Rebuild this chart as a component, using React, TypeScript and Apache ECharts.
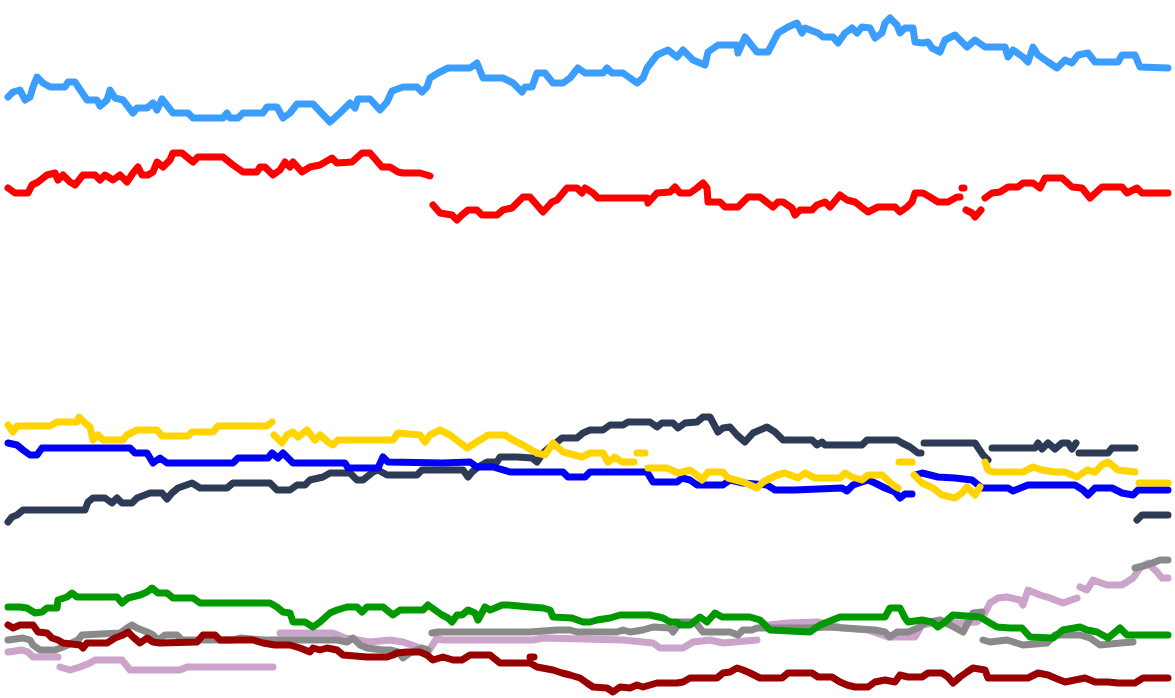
import React, { useEffect, useRef } from "react";
import * as echarts from "echarts";

// x: day index (0..1175), y: plotted level (0 = top of chart, 698 = bottom)
const GAP: any = ["-", "-"];

const lightBlueLine: any[] = [
  [8, 97], [13, 92], [20, 90], [25, 100], [30, 97], [33, 87], [37, 77], [43, 83], [50, 87], [65, 87], [68, 82], [75, 82],
  [87, 100], [97, 100], [100, 106], [107, 100], [110, 90], [115, 98], [123, 100], [133, 113], [137, 108], [147, 108],
  [153, 103], [157, 110], [162, 99], [173, 113], [188, 113], [193, 118], [223, 118], [227, 113], [230, 118], [238, 118],
  [243, 113], [263, 113], [267, 107], [277, 107], [283, 118], [290, 113], [297, 104], [313, 104], [330, 122], [340, 113],
  [350, 103], [355, 108], [358, 99], [370, 99], [380, 110], [387, 102], [392, 91], [403, 87], [417, 87], [422, 92],
  [427, 87], [430, 78], [438, 73], [448, 68], [470, 68], [477, 63], [483, 78], [503, 78], [513, 83], [522, 92], [525, 87],
  [532, 87], [537, 73], [545, 73], [553, 83], [563, 83], [570, 78], [578, 68], [585, 73], [603, 73], [607, 68], [612, 73],
  [623, 73], [637, 83], [643, 78], [647, 68], [657, 55], [668, 50], [677, 57], [683, 50], [693, 60], [705, 65], [708, 52],
  [718, 45], [737, 45], [738, 53], [745, 37], [757, 52], [768, 52], [778, 33], [788, 27], [797, 23], [802, 33], [805, 28],
  [818, 33], [823, 37], [833, 37], [838, 43], [845, 33], [852, 28], [857, 33], [862, 27], [870, 28], [875, 38], [882, 33],
  [885, 23], [890, 18], [897, 25], [900, 33], [905, 28], [913, 28], [915, 42], [923, 43], [928, 42], [932, 48], [940, 52],
  [945, 40], [955, 35], [967, 47], [975, 40], [985, 47], [1005, 47], [1008, 57], [1013, 50], [1023, 57], [1028, 62],
  [1033, 47], [1038, 55], [1048, 62], [1057, 68], [1065, 60], [1072, 63], [1078, 55], [1088, 53], [1095, 62], [1118, 62],
  [1122, 55], [1135, 55], [1140, 67], [1168, 68],
];

const redLine: any[] = [
  [8, 188], [15, 193], [28, 193], [32, 185], [38, 182], [47, 175], [55, 173], [58, 180], [63, 175], [70, 182], [75, 185],
  [83, 175], [95, 175], [100, 180], [105, 175], [113, 180], [120, 175], [127, 182], [133, 173], [138, 167], [142, 175],
  [148, 175], [153, 172], [157, 162], [163, 167], [170, 160], [173, 153], [182, 153], [193, 162], [198, 157], [223, 157],
  [233, 165], [243, 172], [257, 172], [260, 167], [265, 167], [273, 175], [280, 170], [285, 162], [290, 167], [293, 162],
  [302, 172], [310, 167], [320, 165], [332, 158], [337, 163], [352, 162], [362, 153], [370, 153], [382, 167], [390, 167],
  [398, 172], [403, 173], [420, 173], [427, 175], [430, 176],
  GAP,
  [433, 205], [440, 213], [452, 215], [457, 220], [462, 215], [468, 210], [477, 210], [482, 215], [497, 215], [503, 210],
  [512, 208], [517, 203], [523, 197], [530, 197], [543, 212], [552, 202], [557, 200], [567, 188], [577, 188], [582, 193],
  [585, 188], [593, 193], [598, 198], [647, 198], [648, 203], [657, 193], [670, 192], [675, 187], [680, 193], [690, 193],
  [697, 188], [703, 183], [707, 188], [708, 202], [720, 202], [725, 207], [738, 207], [748, 197], [760, 197], [773, 207],
  [778, 202], [783, 202], [792, 208], [795, 215], [800, 210], [812, 210], [817, 205], [825, 202], [830, 207], [840, 195],
  [847, 200], [855, 202], [868, 212], [878, 207], [895, 207], [900, 212], [907, 207], [912, 202], [915, 193], [923, 193],
  [930, 197], [938, 202], [948, 202], [957, 197], [960, 197],
  GAP,
  [962, 188], [964, 188],
  GAP,
  [966, 210], [972, 213], [975, 217], [981, 210],
  GAP,
  [985, 198], [992, 193], [1000, 192], [1008, 187], [1018, 187], [1023, 183], [1033, 183], [1040, 188], [1045, 178],
  [1062, 178], [1072, 187], [1082, 188], [1090, 198], [1102, 187], [1122, 187], [1127, 193], [1137, 188], [1142, 193],
  [1168, 193],
];

const yellowLine: any[] = [
  [8, 425], [13, 432], [17, 426], [50, 426], [57, 422], [77, 422], [79, 417], [85, 423], [90, 427], [93, 440], [98, 435],
  [103, 440], [123, 440], [127, 435], [133, 432], [137, 430], [157, 430], [162, 436], [188, 436], [192, 432], [213, 432],
  [218, 426], [267, 426], [272, 422],
  GAP,
  [274, 435], [282, 443], [287, 435], [293, 432], [298, 437], [307, 430], [315, 440], [320, 435], [328, 442], [333, 445],
  [338, 440], [393, 440], [398, 433], [420, 435], [425, 442], [430, 435], [440, 430], [450, 435], [467, 448], [480, 440],
  [488, 435], [505, 435], [513, 440], [523, 445], [537, 453], [545, 455], [553, 443], [563, 452], [582, 457], [590, 453],
  [603, 453], [608, 462], [615, 457], [622, 462], [634, 462],
  GAP,
  [637, 453], [645, 453],
  GAP,
  [648, 468], [667, 468], [678, 473], [690, 470], [697, 475], [702, 480], [708, 472], [723, 472], [728, 478], [743, 482],
  [757, 488], [763, 482], [777, 475], [785, 473], [798, 478], [805, 473], [815, 478], [840, 478], [845, 473], [852, 477],
  [862, 480], [868, 475], [882, 475], [893, 485], [898, 488],
  GAP,
  [899, 462], [912, 462],
  GAP,
  [914, 475], [922, 483], [933, 488], [942, 495], [955, 498], [962, 493], [967, 487], [975, 495], [980, 487],
  GAP,
  [985, 462], [988, 470], [993, 472], [1023, 472], [1033, 467], [1042, 470], [1055, 472], [1065, 472], [1077, 477],
  [1087, 470], [1095, 472], [1102, 465], [1108, 462], [1118, 470], [1135, 472],
  GAP,
  [1139, 483], [1168, 483],
];

const blueLine: any[] = [
  [8, 443], [17, 445], [23, 450], [30, 455], [37, 455], [42, 448], [130, 448], [135, 453], [147, 453], [153, 463],
  [160, 458], [167, 463], [233, 463], [238, 458], [268, 458], [272, 453], [278, 458], [283, 453], [293, 463], [345, 463],
  [348, 468], [378, 468], [383, 457], [388, 462], [443, 463], [470, 462], [477, 467], [493, 467], [510, 472], [563, 472],
  [568, 477], [585, 477], [590, 472], [647, 472], [653, 482], [677, 482], [682, 478], [690, 480], [697, 485], [723, 485],
  [730, 480], [743, 483], [767, 485], [775, 490], [795, 490], [842, 488], [847, 491], [853, 485], [868, 480], [875, 483],
  [885, 488], [895, 492], [900, 498], [905, 494], [912, 494],
  GAP,
  [915, 475], [922, 473], [938, 477], [955, 478], [972, 480], [982, 488], [1008, 488], [1013, 491], [1028, 485],
  [1075, 485], [1083, 490], [1088, 495], [1095, 488], [1112, 488], [1122, 493], [1133, 495], [1138, 490], [1168, 490],
];

const navyLine: any[] = [
  [8, 522], [12, 517], [17, 515], [23, 510], [85, 510], [88, 502], [93, 498], [105, 498], [112, 503], [117, 498],
  [122, 503], [132, 503], [137, 498], [150, 493], [162, 493], [167, 499], [172, 493], [178, 488], [192, 483], [200, 488],
  [227, 488], [233, 483], [270, 483], [277, 490], [290, 490], [297, 485], [305, 485], [310, 480], [323, 477], [330, 473],
  [350, 473], [357, 480], [363, 480], [373, 472], [378, 470], [387, 475], [417, 475], [422, 470], [463, 470], [468, 477],
  [472, 472], [478, 467], [487, 462], [497, 462], [500, 457], [517, 457], [532, 458], [537, 462], [543, 453], [550, 447],
  [557, 442], [562, 438], [577, 438], [583, 433], [590, 430], [603, 430], [610, 425], [623, 425], [628, 422], [650, 422],
  [657, 427], [662, 423], [673, 423], [678, 428], [685, 423], [697, 422], [703, 417], [710, 417], [718, 432], [723, 428],
  [730, 427], [737, 435], [745, 442], [753, 433], [767, 427], [775, 432], [783, 440], [812, 440], [817, 445], [822, 442],
  [825, 445], [862, 445], [867, 440], [897, 440], [902, 443], [910, 447], [918, 453], [921, 453],
  GAP,
  [924, 443], [975, 443], [983, 455], [988, 460],
  GAP,
  [992, 448], [1035, 448], [1038, 443], [1042, 449], [1048, 443], [1055, 449], [1062, 443], [1068, 443], [1072, 449],
  [1076, 443],
  GAP,
  [1079, 453], [1108, 453], [1112, 448], [1135, 448],
  GAP,
  [1137, 520], [1142, 515], [1168, 515],
];

const greenLine: any[] = [
  [8, 607], [20, 607], [27, 608], [35, 613], [42, 612], [47, 608], [57, 608], [58, 600], [67, 597], [72, 593], [77, 597],
  [117, 597], [122, 603], [128, 598], [140, 595], [147, 592], [152, 588], [158, 593], [167, 593], [173, 598], [193, 598],
  [200, 603], [270, 603], [277, 607], [283, 612], [290, 613], [293, 622], [305, 622], [313, 627], [320, 622], [330, 613],
  [337, 610], [347, 607], [357, 607], [362, 612], [367, 607], [383, 607], [393, 615], [400, 610], [423, 610], [428, 605],
  [435, 610], [442, 615], [448, 618], [452, 622], [457, 615], [462, 615], [468, 610], [475, 613], [478, 620], [485, 607],
  [490, 610], [495, 608], [502, 605], [508, 605], [530, 607], [543, 608], [550, 610], [553, 617], [572, 618], [583, 622],
  [590, 622], [597, 620], [610, 618], [620, 615], [650, 615], [663, 618], [670, 622], [677, 622], [680, 625], [690, 625],
  [700, 617], [707, 622], [715, 613], [722, 617], [750, 617], [760, 620], [770, 630], [810, 632], [820, 625], [840, 617],
  [885, 617], [890, 608], [900, 608], [905, 618], [908, 622], [922, 620], [932, 622], [938, 627], [945, 622], [953, 615],
  [980, 617], [990, 623], [997, 627], [1010, 628], [1022, 628], [1030, 637], [1053, 638], [1063, 630], [1080, 627],
  [1087, 630], [1097, 632], [1108, 638], [1120, 628], [1127, 635], [1168, 635],
];

const darkRedLine: any[] = [
  [8, 625], [13, 628], [20, 625], [33, 625], [38, 632], [47, 633], [52, 638], [58, 640], [63, 643], [80, 645], [83, 648],
  [87, 643], [107, 643], [115, 638], [123, 635], [128, 632], [133, 637], [140, 643], [147, 638], [153, 642], [160, 643],
  [197, 642], [203, 635], [215, 635], [220, 640], [253, 640], [263, 643], [275, 645], [290, 645], [300, 648], [310, 652],
  [313, 648], [320, 650], [327, 648], [337, 650], [343, 655], [367, 657], [387, 657], [393, 655], [397, 653], [407, 652],
  [420, 652], [427, 655], [433, 660], [443, 657], [453, 660], [462, 660], [470, 655], [490, 655], [500, 663], [530, 663],
  [537, 667], [553, 670], [562, 673], [570, 675], [580, 678], [587, 683], [593, 687], [607, 688], [613, 692], [620, 687],
  [630, 688], [637, 685], [643, 687], [657, 683], [677, 683], [683, 682], [690, 678], [717, 678], [723, 673], [730, 672],
  [737, 668], [743, 670], [750, 673], [760, 678], [782, 678], [788, 673], [812, 673], [818, 677], [832, 677], [840, 682],
  [847, 685], [855, 687], [868, 687], [875, 682], [885, 680], [895, 682], [900, 675], [908, 677], [922, 677], [928, 673],
  [942, 673], [948, 677], [953, 683], [960, 677], [967, 672], [973, 668], [985, 670], [988, 678], [1028, 678], [1038, 673],
  [1048, 675], [1055, 678], [1065, 682], [1085, 678], [1095, 682], [1108, 682], [1118, 683], [1135, 683], [1143, 678],
  [1168, 678],
  GAP,
  [530, 657], [534, 657],
];

const grayLine: any[] = [
  [8, 640], [23, 638], [30, 640], [33, 645], [40, 650], [55, 650], [63, 647], [78, 640], [82, 635], [120, 633], [127, 628],
  [132, 625], [137, 628], [147, 632], [153, 635], [158, 640], [165, 635], [177, 635], [182, 640], [233, 640], [240, 638],
  [263, 640], [337, 640], [347, 642], [353, 638], [360, 645], [367, 648], [383, 650], [390, 650], [398, 652], [403, 658],
  [410, 653], [422, 648], [428, 650],
  GAP,
  [432, 633], [438, 632], [530, 632], [557, 630], [570, 630], [577, 632], [617, 632], [623, 630], [630, 632], [643, 630],
  [653, 627], [670, 628], [673, 632], [680, 622], [695, 622], [703, 632], [730, 632], [738, 635], [743, 630], [752, 630],
  [757, 628], [777, 628], [807, 628], [828, 627], [845, 628], [875, 630], [885, 632], [890, 637], [897, 632], [908, 632],
  [918, 628], [925, 623], [940, 620], [950, 625], [963, 632], [973, 613], [982, 612],
  GAP,
  [983, 640], [990, 642], [1007, 640], [1023, 645], [1047, 643], [1055, 635], [1080, 635], [1090, 638], [1100, 645],
  [1120, 643], [1133, 642],
  GAP,
  [1135, 568], [1147, 565], [1160, 560], [1168, 560],
];

const pinkLine: any[] = [
  [8, 652], [22, 650], [28, 652], [33, 657], [58, 657],
  GAP,
  [60, 667], [70, 670], [80, 667], [90, 663], [95, 660], [122, 660], [130, 670], [180, 670], [187, 667], [273, 667],
  GAP,
  [280, 633], [333, 633], [345, 638], [370, 642], [390, 640], [403, 642], [420, 648], [428, 652], [437, 638], [443, 640],
  [533, 640], [543, 638], [623, 640], [653, 643], [660, 648], [683, 648], [693, 642], [710, 640], [723, 643], [757, 640],
  GAP,
  [768, 625], [788, 623], [818, 622], [842, 628], [868, 630], [888, 637], [915, 637], [922, 625], [940, 622], [960, 623],
  [977, 622], [985, 613], [990, 603], [998, 598], [1007, 597], [1020, 600], [1023, 605], [1028, 590], [1040, 595],
  [1050, 598], [1063, 603], [1077, 598],
  GAP,
  [1080, 587], [1087, 590], [1093, 580], [1107, 585], [1122, 585], [1133, 578], [1140, 568], [1148, 563], [1157, 572],
  [1162, 578], [1168, 578],
];

const seriesDefs = [
  { name: "pink", color: "#cba3cb", data: pinkLine },
  { name: "gray", color: "#8a8a8a", data: grayLine },
  { name: "darkred", color: "#990000", data: darkRedLine },
  { name: "green", color: "#009a00", data: greenLine },
  { name: "navy", color: "#2e3b57", data: navyLine },
  { name: "blue", color: "#0000f8", data: blueLine },
  { name: "yellow", color: "#ffd400", data: yellowLine },
  { name: "red", color: "#ff0000", data: redLine },
  { name: "lightblue", color: "#3b9eff", data: lightBlueLine },
];

export default function App() {
  const ref = useRef<HTMLDivElement>(null);
  useEffect(() => {
    if (!ref.current) return;
    const chart = echarts.init(ref.current, undefined, { renderer: "svg" });
    chart.setOption({
      animation: false,
      backgroundColor: "#ffffff",
      grid: { left: 0, right: 0, top: 0, bottom: 0 },
      xAxis: { type: "value", min: 0, max: 1175, show: false },
      yAxis: { type: "value", min: 0, max: 698, inverse: true, show: false },
      series: seriesDefs.map((s) => ({
        name: s.name,
        type: "line",
        data: s.data,
        showSymbol: false,
        symbol: "none",
        connectNulls: false,
        silent: true,
        lineStyle: { width: 7, color: s.color, cap: "round", join: "round" },
        itemStyle: { color: s.color },
      })),
    });
    return () => chart.dispose();
  }, []);
  return (
    <div
      ref={ref}
      style={{ position: "fixed", left: 0, top: 0, width: 1175, height: 698, background: "#fff" }}
    />
  );
}
